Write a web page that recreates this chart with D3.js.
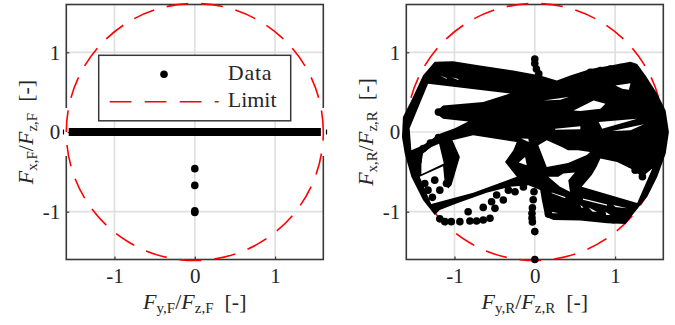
<!DOCTYPE html>
<html>
<head>
<meta charset="utf-8">
<script src="https://cdn.jsdelivr.net/npm/d3@7"></script>
<style>
  html, body { margin: 0; background: #fff; }
  text { font-family: "Liberation Serif", serif; fill: #262626; }
</style>
</head>
<body>
<div id="chart"></div>
<script>
// DATA //
const tickValues = [-1, 0, 1]
const axisLimit = 1.6
const limitRadius = 1.6

// front axle: the solid run along zero plus the braking points
const frontRunFy = [-1.57, -1.2, -0.8, -0.4, 0, 0.4, 0.8, 1.2, 1.57]
const frontRunFx = [0, 0, 0, 0, 0, 0, 0, 0, 0]
const frontPointsFy = [0, 0, 0, 0]
const frontPointsFx = [-0.46, -0.67, -0.99, -1.01]
const frontEndMarks = [-1.635, 1.64]

// rear axle: the dense cloud, read as an outline with the empty pockets cut out
const rearOutline = [
    [-1.246, 0.883], [-1.017, 0.888], [-0.683, 0.833], [-0.267, 0.771], [0.067, 0.708], [0.275, 0.646],
    [0.442, 0.708], [0.692, 0.792], [0.942, 0.833], [1.192, 0.883], [1.275, 0.854], [1.379, 0.708],
    [1.525, 0.479], [1.629, 0.271], [1.67, 0], [1.63, -0.27], [1.525, -0.5625], [1.4, -0.8125],
    [1.233, -1.02], [1.13, -1.154], [0.9, -1.146], [0.567, -1.11], [0.233, -1.104], [0.13, -1.06],
    [0.0875, -0.854], [0.067, -0.729], [-0.079, -0.667], [-0.308, -0.6875], [-0.6, -0.7625],
    [-0.975, -0.896], [-1.183, -0.979], [-1.246, -1.042], [-1.392, -0.854], [-1.5375, -0.5625],
    [-1.62, -0.27], [-1.654, -0.0625], [-1.642, 0.1875], [-1.5375, 0.396], [-1.392, 0.708],
]
const rearPockets = [
    [[-1.329, 0.604], [-0.308, 0.483], [-0.642, 0.375], [-1.142, 0.333], [-1.246, 0.246], [-1.142, 0.167],
     [-0.829, 0.133], [-0.996, 0.046], [-1.183, -0.021], [-1.392, -0.167], [-1.5375, -0.229], [-1.558, 0.046]],
    [[-1.4125, -0.53], [-1.133, -0.396], [-1.192, -0.146], [-1.288, -0.188], [-1.392, -0.271], [-1.412, -0.396]],
    [[-1.433, -0.5625], [-1.142, -0.429], [-1.121, -0.646], [-1.079, -0.708], [-1.037, -0.667], [-0.933, -0.3125],
     [-1.025, -0.104], [-0.767, -0.042], [-0.225, -0.125], [-0.267, -0.229], [-0.371, -0.375], [-0.225, -0.5625],
     [-0.767, -0.763], [-1.29, -0.904]],
    [[-0.2, -0.383], [-0.121, -0.3125], [-0.1, -0.417]],
    [[0.77, -0.4375], [0.709, -0.54], [0.584, -0.6875], [1.275, -0.89], [1.463, -0.458], [1.338, -0.5625],
     [1.192, -0.458], [1.025, -0.375], [0.817, -0.333]],
    [[0.044, -0.166], [0.149, -0.104], [0.336, -0.187], [0.414, -0.229], [0.539, -0.229], [0.688, -0.25],
     [0.647, -0.29], [0.414, -0.39], [0.149, -0.438]],
    [[0.168, -0.5625], [0.293, -0.5625], [0.355, -0.52], [0.5, -0.507], [0.417, -0.604], [0.438, -0.75], [0.314, -0.6875]],
    [[0.108, 0.396], [0.421, 0.438], [0.317, 0.404]],
    [[0.483, 0.271], [0.733, 0.396], [0.879, 0.354], [0.817, 0.292], [0.567, 0.263]],
    [[1.004, 0.583], [1.192, 0.613], [1.171, 0.529], [1.088, 0.542]],
    [[0.796, 0.125], [1.275, 0.167], [0.838, 0.042]],
    [[0.963, 0.013], [1.358, 0.096], [1.192, 0.021]],
    [[0.254, 0.042], [0.567, 0.071], [0.567, 0.033], [0.254, 0.029]],
    [[-1.183, 0.708], [-1.1, 0.667], [-1.09, 0.675]],
    [[-1.038, 0.688], [-0.954, 0.654], [-0.95, 0.665]],
    [[-0.17, -0.083], [-0.075, -0.125], [-0.08, -0.085]],
    [[0.2125, -0.77], [0.379, -0.83], [0.38, -0.815], [0.21, -0.76]],
    [[0.6, -0.85], [0.9, -0.925], [0.9, -0.91], [0.6, -0.835]],
    [[0.567, -0.917], [0.608, -0.946], [0.58, -0.95]],
    [[0.67, -0.946], [0.775, -1], [0.72, -1]],
    [[0.88, -1], [0.94, -1.04], [0.89, -1.04]],
    [[0.98, -0.917], [1.15, -0.958], [1.0, -0.94]],
    [[0.21, -1], [0.296, -1.02], [0.22, -1.02]],
]

// single points that stand clear of the cloud or roughen its edge
const rearPointsFy = [
    0, 0, 0.02, 0.05, -0.01, -0.02, -0.03, -0.035, -0.035, -0.03, 0, 0,
    -1.2, -1.3, -1.39, -1.467, -1.454,
    -1.37, -1.33, -1.275, -1.246, -1.183, -1.1,
    -1.183, -1.12, -1.04, -0.933, -0.83, -0.808, -0.725, -0.642, -0.558, -0.642, -0.496, -0.538, -0.475, -0.392, -0.329, -0.246, -0.142,
    1.34, 1.25, 1.19, 1.4,
    0.483, 0.587, 0.692, 0.817, 0.942, 1.067, 1.21,
    -1.183, -0.975, -0.767, -0.558, -0.35,
    0.17, 0.34, 0.48, 0.65, 0.82, 0.98, 1.11,
    -1.2,
]
const rearPointsFx = [
    0.917, 0.86, 0.79, 0.73, -0.75, -0.85, -0.95, -1.02, -1.08, -1.13, -1.25, -1.6,
    -0.07, -0.1375, -0.208, -0.27, -0.3625,
    -0.646, -0.73, -0.82, -0.604, -0.73, -0.646,
    -1.09, -1.125, -1.125, -1.125, -1, -1.117, -1.117, -1.104, -1.083, -0.946, -0.958, -0.875, -0.79, -0.854, -0.73, -0.75, -0.69,
    -0.56, -0.48, -0.4, -0.44,
    0.66, 0.7, 0.75, 0.77, 0.79, 0.81, 0.81,
    0.8, 0.81, 0.79, 0.76, 0.73,
    -1.03, -1.05, -1.05, -1.07, -1.08, -1.1, -1.09,
    0.25,
]
const legendLabels = ["Data", "Limit"]

// GLOBAL VARIABLES //
const dimensions = { width: 675, height: 325, top: 4.5, bottom: 259.5, plotWidth: 257 }
const panelLefts = [66.3, 406.3]
const red = "#ff0000"
const axisColor = "#383838"
const dotRadius = 3.8

const svg = d3.select("#chart").append("svg")
    .attr("width", dimensions.width)
    .attr("height", dimensions.height)
    .style("display", "block")

function drawPanel(index, draw, xLabel, yLabel) {
    const left = panelLefts[index]
    const xScale = d3.scaleLinear().domain([-axisLimit, axisLimit]).range([0, dimensions.plotWidth])
    const yScale = d3.scaleLinear().domain([-axisLimit, axisLimit]).range([dimensions.bottom - dimensions.top, 0])
    const bounds = svg.append("g").attr("transform", `translate(${left},${dimensions.top})`)
    const h = yScale.range()[0]
    const w = dimensions.plotWidth

    // grid
    bounds.selectAll(".gx").data(tickValues).join("line").attr("class", "gx")
        .attr("x1", d => xScale(d)).attr("x2", d => xScale(d)).attr("y1", 0).attr("y2", h)
        .attr("stroke", "#e0e0e0").attr("stroke-width", 1.7)
    bounds.selectAll(".gy").data(tickValues).join("line").attr("class", "gy")
        .attr("y1", d => yScale(d)).attr("y2", d => yScale(d)).attr("x1", 0).attr("x2", w)
        .attr("stroke", "#e0e0e0").attr("stroke-width", 1.7)

    // box and axes
    const xAxis = d3.axisBottom(xScale).tickValues(tickValues).tickSizeInner(-3).tickSizeOuter(0).tickPadding(9).tickFormat(String)
    const yAxis = d3.axisLeft(yScale).tickValues(tickValues).tickSizeInner(-3).tickSizeOuter(0).tickPadding(6).tickFormat(String)
    const gx = bounds.append("g").attr("transform", `translate(0,${h})`).call(xAxis)
    const gy = bounds.append("g").call(yAxis)
    for (const g of [gx, gy]) {
        g.selectAll("text").attr("font-size", 21).attr("font-family", "Liberation Serif").attr("fill", "#262626")
        g.selectAll("line").attr("stroke", axisColor).attr("stroke-width", 1.2)
        g.select(".domain").attr("stroke", "none")
    }
    bounds.append("rect")
        .attr("width", w).attr("height", h)
        .attr("fill", "none").attr("stroke", axisColor).attr("stroke-width", 1.6)

    // the front band wipes the box out where it reaches the sides
    if (index === 0) {
        bounds.selectAll(".wipe").data([-1.5, w - 1.5]).join("rect").attr("class", "wipe")
            .attr("x", d => d).attr("width", 3)
            .attr("y", yScale(0) - 24).attr("height", 48)
            .attr("fill", "white")
    }

    // limit circle: starts at angle 0 and runs counter-clockwise
    const limitPath = d3.path()
    limitPath.arc(xScale(0), yScale(0), xScale(limitRadius) - xScale(0), 0, -2 * Math.PI + 0.0001, true)
    bounds.append("path")
        .attr("d", limitPath.toString())
        .attr("fill", "none")
        .attr("stroke", red)
        .attr("stroke-width", 1.6)
        .attr("stroke-dasharray", "21.7 13")

    draw(bounds, xScale, yScale)

    drawSymbolLabel(bounds.append("text")
        .attr("x", w / 2).attr("y", h + 49).attr("text-anchor", "middle"), xLabel)
    drawSymbolLabel(bounds.append("text")
        .attr("transform", `translate(-33,${h / 2}) rotate(-90)`).attr("text-anchor", "middle"), yLabel)
}

function drawSymbolLabel(label, parts) {
    label.attr("font-size", 22)
    parts.forEach(p => {
        const t = label.append("tspan").text(p.text)
        if (p.italic) t.attr("font-style", "italic")
        if (p.sub) t.attr("font-size", 15).attr("baseline-shift", "-4")
    })
}

function labelParts(a, axle) {
    return [
        { text: "F", italic: true }, { text: `${a},${axle}`, sub: true },
        { text: "/" }, { text: "F", italic: true }, { text: `z,${axle}`, sub: true },
        { text: "\u00a0\u00a0[-]" },
    ]
}

function drawFront(bounds, xScale, yScale) {
    const run = d3.line().x(d => xScale(d)).y((d, i) => yScale(frontRunFx[i]))
    bounds.append("path").attr("class", "frontBand")
        .attr("d", run(frontRunFy))
        .attr("fill", "none").attr("stroke", "black").attr("stroke-width", 7.8)
    bounds.selectAll(".pt").data(frontPointsFy).join("circle").attr("class", "pt")
        .attr("cx", d => xScale(d)).attr("cy", (d, i) => yScale(frontPointsFx[i]))
        .attr("r", dotRadius).attr("fill", "black")
    bounds.selectAll(".mark").data(frontEndMarks).join("line").attr("class", "mark")
        .attr("x1", d => xScale(d)).attr("x2", d => xScale(d))
        .attr("y1", yScale(0) - 2.5).attr("y2", yScale(0) + 2.5)
        .attr("stroke", "black").attr("stroke-width", 1.2)
}

function drawRear(bounds, xScale, yScale) {
    const ring = d3.line().x(d => xScale(d[0])).y(d => yScale(d[1])).curve(d3.curveLinearClosed)
    const shape = [rearOutline, ...rearPockets].map(ring).join(" ")
    bounds.append("path").attr("class", "rearCloud")
        .attr("d", shape)
        .attr("fill", "black").attr("fill-rule", "evenodd")
    bounds.selectAll(".pt").data(rearPointsFy).join("circle").attr("class", "pt")
        .attr("cx", d => xScale(d)).attr("cy", (d, i) => yScale(rearPointsFx[i]))
        .attr("r", dotRadius).attr("fill", "black")
}

drawPanel(0, drawFront, labelParts("y", "F"), labelParts("x", "F"))
drawPanel(1, drawRear, labelParts("y", "R"), labelParts("x", "R"))

// LEGEND //
const legend = svg.append("g").attr("transform", "translate(98.7,55.3)")
legend.append("rect").attr("width", 192).attr("height", 65.5)
    .attr("fill", "white").attr("stroke", axisColor).attr("stroke-width", 1.5)
legend.append("circle").attr("cx", 65.3).attr("cy", 19).attr("r", dotRadius).attr("fill", "black")
legend.append("line").attr("x1", 11).attr("x2", 120).attr("y1", 46.5).attr("y2", 46.5)
    .attr("stroke", red).attr("stroke-width", 1.6).attr("stroke-dasharray", "21.7 13.3")
legend.selectAll(".lbl").data(legendLabels).join("text").attr("class", "lbl")
    .attr("x", 129).attr("y", (d, i) => 24.8 + i * 27)
    .attr("font-size", 22).attr("letter-spacing", (d, i) => i === 0 ? 0.8 : 0).text(d => d)
</script>
</body>
</html>
